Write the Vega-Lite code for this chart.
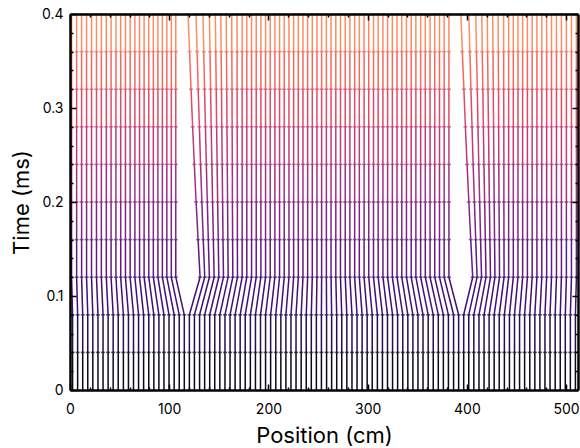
{
"$schema": "https://vega.github.io/schema/vega-lite/v6.json",
"width": 508, "height": 376,
"autosize": {"type": "none"},
"padding": {"left": 70, "top": 14, "right": 2, "bottom": 58},
"config": {"view": {"stroke": null}, "font": "Inter"},
"datasets": {"times": [{"key":"a","t":0},{"key":"b","t":0.04},{"key":"c","t":0.08},{"key":"d","t":0.12},{"key":"e","t":0.16},{"key":"f","t":0.2},{"key":"g","t":0.24},{"key":"h","t":0.28},{"key":"i","t":0.32},{"key":"j","t":0.36},{"key":"k","t":0.4}]},
"data": {"values": [
{"p":0,"a":2.6,"b":2.6,"c":2.6,"d":1.6,"e":1.6,"f":1.6,"g":1.6,"h":1.6,"i":1.6,"j":1.6,"k":1.6},
{"p":1,"a":7.7,"b":7.7,"c":7.7,"d":6.7,"e":6.7,"f":6.7,"g":6.7,"h":6.7,"i":6.7,"j":6.7,"k":6.7},
{"p":2,"a":12.8,"b":12.8,"c":12.8,"d":11.7,"e":11.7,"f":11.7,"g":11.7,"h":11.7,"i":11.7,"j":11.7,"k":11.7},
{"p":3,"a":17.9,"b":17.9,"c":17.9,"d":16.7,"e":16.7,"f":16.7,"g":16.7,"h":16.7,"i":16.7,"j":16.7,"k":16.7},
{"p":4,"a":23.0,"b":23.0,"c":23.0,"d":21.7,"e":21.7,"f":21.7,"g":21.7,"h":21.7,"i":21.7,"j":21.7,"k":21.7},
{"p":5,"a":28.2,"b":28.2,"c":28.2,"d":26.7,"e":26.7,"f":26.7,"g":26.7,"h":26.7,"i":26.7,"j":26.7,"k":26.7},
{"p":6,"a":33.3,"b":33.3,"c":33.3,"d":31.6,"e":31.6,"f":31.6,"g":31.6,"h":31.6,"i":31.6,"j":31.6,"k":31.6},
{"p":7,"a":38.4,"b":38.4,"c":38.4,"d":36.6,"e":36.6,"f":36.6,"g":36.6,"h":36.6,"i":36.6,"j":36.6,"k":36.6},
{"p":8,"a":43.5,"b":43.5,"c":43.5,"d":41.4,"e":41.4,"f":41.4,"g":41.4,"h":41.4,"i":41.4,"j":41.4,"k":41.4},
{"p":9,"a":48.6,"b":48.6,"c":48.6,"d":46.3,"e":46.3,"f":46.3,"g":46.3,"h":46.3,"i":46.3,"j":46.3,"k":46.3},
{"p":10,"a":53.8,"b":53.8,"c":53.8,"d":51.1,"e":51.1,"f":51.1,"g":51.1,"h":51.1,"i":51.1,"j":51.1,"k":51.1},
{"p":11,"a":58.9,"b":58.9,"c":58.9,"d":55.9,"e":55.9,"f":55.9,"g":55.9,"h":55.9,"i":55.9,"j":55.9,"k":55.9},
{"p":12,"a":64.0,"b":64.0,"c":64.0,"d":60.6,"e":60.6,"f":60.6,"g":60.6,"h":60.6,"i":60.6,"j":60.6,"k":60.6},
{"p":13,"a":69.1,"b":69.1,"c":69.1,"d":65.4,"e":65.4,"f":65.4,"g":65.4,"h":65.4,"i":65.4,"j":65.4,"k":65.4},
{"p":14,"a":74.2,"b":74.2,"c":74.2,"d":70.1,"e":70.1,"f":70.1,"g":70.1,"h":70.1,"i":70.1,"j":70.1,"k":70.1},
{"p":15,"a":79.4,"b":79.4,"c":79.4,"d":74.7,"e":74.7,"f":74.7,"g":74.7,"h":74.7,"i":74.7,"j":74.7,"k":74.7},
{"p":16,"a":84.5,"b":84.5,"c":84.5,"d":79.4,"e":79.4,"f":79.4,"g":79.4,"h":79.4,"i":79.4,"j":79.4,"k":79.4},
{"p":17,"a":89.6,"b":89.6,"c":89.6,"d":84.0,"e":84.0,"f":84.0,"g":84.0,"h":84.0,"i":84.0,"j":84.0,"k":84.0},
{"p":18,"a":94.7,"b":94.7,"c":94.7,"d":88.6,"e":88.6,"f":88.6,"g":88.6,"h":88.6,"i":88.6,"j":88.6,"k":88.6},
{"p":19,"a":99.8,"b":99.8,"c":99.8,"d":93.1,"e":93.1,"f":93.1,"g":93.1,"h":93.1,"i":93.1,"j":93.1,"k":93.1},
{"p":20,"a":105.0,"b":105.0,"c":105.0,"d":97.6,"e":97.6,"f":97.6,"g":97.6,"h":97.6,"i":97.6,"j":97.6,"k":97.6},
{"p":21,"a":110.1,"b":110.1,"c":110.1,"d":102.1,"e":102.1,"f":102.1,"g":102.1,"h":102.1,"i":102.1,"j":102.1,"k":102.1},
{"p":22,"a":115.2,"b":115.2,"c":115.2,"d":106.6,"e":106.6,"f":106.6,"g":106.6,"h":106.6,"i":106.6,"j":106.6,"k":106.6},
{"p":23,"a":120.3,"b":120.3,"c":120.3,"d":131.1,"e":129.1,"f":127.1,"g":125.3,"h":123.6,"i":122.0,"j":120.5,"k":119.0},
{"p":24,"a":125.4,"b":125.4,"c":125.4,"d":135.8,"e":134.3,"f":132.9,"g":131.6,"h":130.4,"i":129.2,"j":128.1,"k":127.0},
{"p":25,"a":130.6,"b":130.6,"c":130.6,"d":140.5,"e":139.4,"f":138.4,"g":137.4,"h":136.5,"i":135.6,"j":134.8,"k":134.0},
{"p":26,"a":135.7,"b":135.7,"c":135.7,"d":145.3,"e":144.5,"f":143.7,"g":143.0,"h":142.3,"i":141.7,"j":141.1,"k":140.5},
{"p":27,"a":140.8,"b":140.8,"c":140.8,"d":150.0,"e":149.4,"f":148.8,"g":148.3,"h":147.8,"i":147.4,"j":146.9,"k":146.5},
{"p":28,"a":145.9,"b":145.9,"c":145.9,"d":154.7,"e":154.2,"f":153.8,"g":153.4,"h":153.0,"i":152.7,"j":152.3,"k":152.0},
{"p":29,"a":151.0,"b":151.0,"c":151.0,"d":159.4,"e":159.1,"f":158.8,"g":158.5,"h":158.2,"i":158.0,"j":157.7,"k":157.5},
{"p":30,"a":156.2,"b":156.2,"c":156.2,"d":164.1,"e":163.9,"f":163.7,"g":163.6,"h":163.4,"i":163.3,"j":163.1,"k":163.0},
{"p":31,"a":161.3,"b":161.3,"c":161.3,"d":168.8,"e":168.7,"f":168.7,"g":168.6,"h":168.5,"i":168.4,"j":168.4,"k":168.3},
{"p":32,"a":166.4,"b":166.4,"c":166.4,"d":173.5,"e":173.5,"f":173.5,"g":173.5,"h":173.5,"i":173.5,"j":173.5,"k":173.5},
{"p":33,"a":171.5,"b":171.5,"c":171.5,"d":178.2,"e":178.2,"f":178.2,"g":178.2,"h":178.2,"i":178.2,"j":178.2,"k":178.2},
{"p":34,"a":176.6,"b":176.6,"c":176.6,"d":183.0,"e":183.0,"f":183.0,"g":183.0,"h":183.0,"i":183.0,"j":183.0,"k":183.0},
{"p":35,"a":181.8,"b":181.8,"c":181.8,"d":187.7,"e":187.7,"f":187.7,"g":187.7,"h":187.7,"i":187.7,"j":187.7,"k":187.7},
{"p":36,"a":186.9,"b":186.9,"c":186.9,"d":192.4,"e":192.4,"f":192.4,"g":192.4,"h":192.4,"i":192.4,"j":192.4,"k":192.4},
{"p":37,"a":192.0,"b":192.0,"c":192.0,"d":197.1,"e":197.1,"f":197.1,"g":197.1,"h":197.1,"i":197.1,"j":197.1,"k":197.1},
{"p":38,"a":197.1,"b":197.1,"c":197.1,"d":201.8,"e":201.8,"f":201.8,"g":201.8,"h":201.8,"i":201.8,"j":201.8,"k":201.8},
{"p":39,"a":202.2,"b":202.2,"c":202.2,"d":206.5,"e":206.5,"f":206.5,"g":206.5,"h":206.5,"i":206.5,"j":206.5,"k":206.5},
{"p":40,"a":207.4,"b":207.4,"c":207.4,"d":211.2,"e":211.2,"f":211.2,"g":211.2,"h":211.2,"i":211.2,"j":211.2,"k":211.2},
{"p":41,"a":212.5,"b":212.5,"c":212.5,"d":215.9,"e":215.9,"f":215.9,"g":215.9,"h":215.9,"i":215.9,"j":215.9,"k":215.9},
{"p":42,"a":217.6,"b":217.6,"c":217.6,"d":220.7,"e":220.7,"f":220.7,"g":220.7,"h":220.7,"i":220.7,"j":220.7,"k":220.7},
{"p":43,"a":222.7,"b":222.7,"c":222.7,"d":225.4,"e":225.4,"f":225.4,"g":225.4,"h":225.4,"i":225.4,"j":225.4,"k":225.4},
{"p":44,"a":227.8,"b":227.8,"c":227.8,"d":230.1,"e":230.1,"f":230.1,"g":230.1,"h":230.1,"i":230.1,"j":230.1,"k":230.1},
{"p":45,"a":233.0,"b":233.0,"c":233.0,"d":234.8,"e":234.8,"f":234.8,"g":234.8,"h":234.8,"i":234.8,"j":234.8,"k":234.8},
{"p":46,"a":238.1,"b":238.1,"c":238.1,"d":239.5,"e":239.5,"f":239.5,"g":239.5,"h":239.5,"i":239.5,"j":239.5,"k":239.5},
{"p":47,"a":243.2,"b":243.2,"c":243.2,"d":244.2,"e":244.2,"f":244.2,"g":244.2,"h":244.2,"i":244.2,"j":244.2,"k":244.2},
{"p":48,"a":248.3,"b":248.3,"c":248.3,"d":248.9,"e":248.9,"f":248.9,"g":248.9,"h":248.9,"i":248.9,"j":248.9,"k":248.9},
{"p":49,"a":253.4,"b":253.4,"c":253.4,"d":253.6,"e":253.6,"f":253.6,"g":253.6,"h":253.6,"i":253.6,"j":253.6,"k":253.6},
{"p":50,"a":258.6,"b":258.6,"c":258.6,"d":258.4,"e":258.4,"f":258.4,"g":258.4,"h":258.4,"i":258.4,"j":258.4,"k":258.4},
{"p":51,"a":263.7,"b":263.7,"c":263.7,"d":263.1,"e":263.1,"f":263.1,"g":263.1,"h":263.1,"i":263.1,"j":263.1,"k":263.1},
{"p":52,"a":268.8,"b":268.8,"c":268.8,"d":267.9,"e":267.9,"f":267.9,"g":267.9,"h":267.9,"i":267.9,"j":267.9,"k":267.9},
{"p":53,"a":273.9,"b":273.9,"c":273.9,"d":272.6,"e":272.6,"f":272.6,"g":272.6,"h":272.6,"i":272.6,"j":272.6,"k":272.6},
{"p":54,"a":279.0,"b":279.0,"c":279.0,"d":277.4,"e":277.4,"f":277.4,"g":277.4,"h":277.4,"i":277.4,"j":277.4,"k":277.4},
{"p":55,"a":284.2,"b":284.2,"c":284.2,"d":282.1,"e":282.1,"f":282.1,"g":282.1,"h":282.1,"i":282.1,"j":282.1,"k":282.1},
{"p":56,"a":289.3,"b":289.3,"c":289.3,"d":286.9,"e":286.9,"f":286.9,"g":286.9,"h":286.9,"i":286.9,"j":286.9,"k":286.9},
{"p":57,"a":294.4,"b":294.4,"c":294.4,"d":291.6,"e":291.6,"f":291.6,"g":291.6,"h":291.6,"i":291.6,"j":291.6,"k":291.6},
{"p":58,"a":299.5,"b":299.5,"c":299.5,"d":296.4,"e":296.4,"f":296.4,"g":296.4,"h":296.4,"i":296.4,"j":296.4,"k":296.4},
{"p":59,"a":304.6,"b":304.6,"c":304.6,"d":301.1,"e":301.1,"f":301.1,"g":301.1,"h":301.1,"i":301.1,"j":301.1,"k":301.1},
{"p":60,"a":309.8,"b":309.8,"c":309.8,"d":305.9,"e":305.9,"f":305.9,"g":305.9,"h":305.9,"i":305.9,"j":305.9,"k":305.9},
{"p":61,"a":314.9,"b":314.9,"c":314.9,"d":310.6,"e":310.6,"f":310.6,"g":310.6,"h":310.6,"i":310.6,"j":310.6,"k":310.6},
{"p":62,"a":320.0,"b":320.0,"c":320.0,"d":315.4,"e":315.4,"f":315.4,"g":315.4,"h":315.4,"i":315.4,"j":315.4,"k":315.4},
{"p":63,"a":325.1,"b":325.1,"c":325.1,"d":320.1,"e":320.1,"f":320.1,"g":320.1,"h":320.1,"i":320.1,"j":320.1,"k":320.1},
{"p":64,"a":330.2,"b":330.2,"c":330.2,"d":324.9,"e":324.9,"f":324.9,"g":324.9,"h":324.9,"i":324.9,"j":324.9,"k":324.9},
{"p":65,"a":335.4,"b":335.4,"c":335.4,"d":329.6,"e":329.6,"f":329.6,"g":329.6,"h":329.6,"i":329.6,"j":329.6,"k":329.6},
{"p":66,"a":340.5,"b":340.5,"c":340.5,"d":334.4,"e":334.4,"f":334.4,"g":334.4,"h":334.4,"i":334.4,"j":334.4,"k":334.4},
{"p":67,"a":345.6,"b":345.6,"c":345.6,"d":339.1,"e":339.1,"f":339.1,"g":339.1,"h":339.1,"i":339.1,"j":339.1,"k":339.1},
{"p":68,"a":350.7,"b":350.7,"c":350.7,"d":343.9,"e":343.9,"f":343.9,"g":343.9,"h":343.9,"i":343.9,"j":343.9,"k":343.9},
{"p":69,"a":355.8,"b":355.8,"c":355.8,"d":348.6,"e":348.6,"f":348.6,"g":348.6,"h":348.6,"i":348.6,"j":348.6,"k":348.6},
{"p":70,"a":361.0,"b":361.0,"c":361.0,"d":353.4,"e":353.4,"f":353.4,"g":353.4,"h":353.4,"i":353.4,"j":353.4,"k":353.4},
{"p":71,"a":366.1,"b":366.1,"c":366.1,"d":358.1,"e":358.1,"f":358.1,"g":358.1,"h":358.1,"i":358.1,"j":358.1,"k":358.1},
{"p":72,"a":371.2,"b":371.2,"c":371.2,"d":362.9,"e":362.9,"f":362.9,"g":362.9,"h":362.9,"i":362.9,"j":362.9,"k":362.9},
{"p":73,"a":376.3,"b":376.3,"c":376.3,"d":367.6,"e":367.6,"f":367.6,"g":367.6,"h":367.6,"i":367.6,"j":367.6,"k":367.6},
{"p":74,"a":381.4,"b":381.4,"c":381.4,"d":372.4,"e":372.4,"f":372.4,"g":372.4,"h":372.4,"i":372.4,"j":372.4,"k":372.4},
{"p":75,"a":386.6,"b":386.6,"c":386.6,"d":377.1,"e":377.1,"f":377.1,"g":377.1,"h":377.1,"i":377.1,"j":377.1,"k":377.1},
{"p":76,"a":391.7,"b":391.7,"c":391.7,"d":381.9,"e":381.9,"f":381.9,"g":381.9,"h":381.9,"i":381.9,"j":381.9,"k":381.9},
{"p":77,"a":396.8,"b":396.8,"c":396.8,"d":405.9,"e":403.9,"f":402.0,"g":400.2,"h":398.5,"i":397.0,"j":395.4,"k":394.0},
{"p":78,"a":401.9,"b":401.9,"c":401.9,"d":410.3,"e":408.9,"f":407.6,"g":406.3,"h":405.2,"i":404.1,"j":403.0,"k":402.0},
{"p":79,"a":407.0,"b":407.0,"c":407.0,"d":414.8,"e":413.8,"f":412.9,"g":412.0,"h":411.2,"i":410.5,"j":409.7,"k":409.0},
{"p":80,"a":412.2,"b":412.2,"c":412.2,"d":419.3,"e":418.6,"f":417.9,"g":417.2,"h":416.6,"i":416.1,"j":415.5,"k":415.0},
{"p":81,"a":417.3,"b":417.3,"c":417.3,"d":423.8,"e":423.2,"f":422.7,"g":422.2,"h":421.8,"i":421.3,"j":420.9,"k":420.5},
{"p":82,"a":422.4,"b":422.4,"c":422.4,"d":428.3,"e":427.9,"f":427.5,"g":427.2,"h":426.9,"i":426.6,"j":426.3,"k":426.0},
{"p":83,"a":427.5,"b":427.5,"c":427.5,"d":432.9,"e":432.7,"f":432.4,"g":432.2,"h":432.0,"i":431.9,"j":431.7,"k":431.5},
{"p":84,"a":432.6,"b":432.6,"c":432.6,"d":437.5,"e":437.4,"f":437.3,"g":437.3,"h":437.2,"i":437.1,"j":437.1,"k":437.0},
{"p":85,"a":437.8,"b":437.8,"c":437.8,"d":442.1,"e":442.1,"f":442.1,"g":442.1,"h":442.1,"i":442.1,"j":442.1,"k":442.1},
{"p":86,"a":442.9,"b":442.9,"c":442.9,"d":446.8,"e":446.8,"f":446.8,"g":446.8,"h":446.8,"i":446.8,"j":446.8,"k":446.8},
{"p":87,"a":448.0,"b":448.0,"c":448.0,"d":451.5,"e":451.5,"f":451.5,"g":451.5,"h":451.5,"i":451.5,"j":451.5,"k":451.5},
{"p":88,"a":453.1,"b":453.1,"c":453.1,"d":456.2,"e":456.2,"f":456.2,"g":456.2,"h":456.2,"i":456.2,"j":456.2,"k":456.2},
{"p":89,"a":458.2,"b":458.2,"c":458.2,"d":461.0,"e":461.0,"f":461.0,"g":461.0,"h":461.0,"i":461.0,"j":461.0,"k":461.0},
{"p":90,"a":463.4,"b":463.4,"c":463.4,"d":465.8,"e":465.8,"f":465.8,"g":465.8,"h":465.8,"i":465.8,"j":465.8,"k":465.8},
{"p":91,"a":468.5,"b":468.5,"c":468.5,"d":470.6,"e":470.6,"f":470.6,"g":470.6,"h":470.6,"i":470.6,"j":470.6,"k":470.6},
{"p":92,"a":473.6,"b":473.6,"c":473.6,"d":475.5,"e":475.5,"f":475.5,"g":475.5,"h":475.5,"i":475.5,"j":475.5,"k":475.5},
{"p":93,"a":478.7,"b":478.7,"c":478.7,"d":480.4,"e":480.4,"f":480.4,"g":480.4,"h":480.4,"i":480.4,"j":480.4,"k":480.4},
{"p":94,"a":483.8,"b":483.8,"c":483.8,"d":485.3,"e":485.3,"f":485.3,"g":485.3,"h":485.3,"i":485.3,"j":485.3,"k":485.3},
{"p":95,"a":489.0,"b":489.0,"c":489.0,"d":490.3,"e":490.3,"f":490.3,"g":490.3,"h":490.3,"i":490.3,"j":490.3,"k":490.3},
{"p":96,"a":494.1,"b":494.1,"c":494.1,"d":495.3,"e":495.3,"f":495.3,"g":495.3,"h":495.3,"i":495.3,"j":495.3,"k":495.3},
{"p":97,"a":499.2,"b":499.2,"c":499.2,"d":500.3,"e":500.3,"f":500.3,"g":500.3,"h":500.3,"i":500.3,"j":500.3,"k":500.3},
{"p":98,"a":504.3,"b":504.3,"c":504.3,"d":505.4,"e":505.4,"f":505.4,"g":505.4,"h":505.4,"i":505.4,"j":505.4,"k":505.4},
{"p":99,"a":509.4,"b":509.4,"c":509.4,"d":510.4,"e":510.4,"f":510.4,"g":510.4,"h":510.4,"i":510.4,"j":510.4,"k":510.4}
]},
"transform": [
{"fold": ["a","b","c","d","e","f","g","h","i","j","k"], "as": ["key","x"]},
{"lookup": "key", "from": {"data": {"name": "times"}, "key": "key", "fields": ["t"]}},
{"window": [{"op": "lead", "field": "x", "as": "xn"}, {"op": "lead", "field": "t", "as": "tn"}], "groupby": ["p"], "sort": [{"field": "t", "order": "ascending"}]},
{"filter": "datum.tn != null"}
],
"layer": [
{"mark": {"type": "rule", "strokeWidth": 1.5},
 "encoding": {
  "x": {"field": "x", "type": "quantitative", "scale": {"domain": [0, 512], "nice": false, "zero": false},
    "axis": {"orient": "bottom", "values": [0,20,40,60,80,100,120,140,160,180,200,220,240,260,280,300,320,340,360,380,400,420,440,460,480,500],
      "labelExpr": "datum.value % 100 === 0 ? datum.label : ''",
      "tickSize": {"condition": {"test": "datum.value % 100 === 0", "value": -6}, "value": -3},
      "tickColor": "#000", "tickWidth": 1.5, "domainColor": "#000", "domainWidth": 2.5,
      "labelFontSize": 14, "labelColor": "#000", "labelPadding": 18, "labelFlush": false,
      "title": "Position (cm)", "titleFontSize": 22, "titleFontWeight": "normal", "titleColor": "#000", "titlePadding": 9,
      "grid": false, "zindex": 1}},
  "x2": {"field": "xn"},
  "y": {"field": "t", "type": "quantitative", "scale": {"domain": [0, 0.4], "nice": false, "zero": false},
    "axis": {"orient": "left", "values": [0,0.02,0.04,0.06,0.08,0.1,0.12,0.14,0.16,0.18,0.2,0.22,0.24,0.26,0.28,0.3,0.32,0.34,0.36,0.38,0.4],
      "labelExpr": "abs(datum.value*10 - round(datum.value*10)) < 0.001 ? format(datum.value, '.1~f') : ''",
      "tickSize": {"condition": {"test": "abs(datum.value*10 - round(datum.value*10)) < 0.001", "value": -6}, "value": -3},
      "tickColor": "#000", "tickWidth": 1.5, "domainColor": "#000", "domainWidth": 2.5,
      "labelFontSize": 14, "labelColor": "#000", "labelPadding": 13, "labelFlush": false,
      "title": "Time (ms)", "titleFontSize": 22, "titleFontWeight": "normal", "titleColor": "#000", "titlePadding": 8,
      "grid": false, "zindex": 1}},
  "y2": {"field": "tn"},
  "color": {"field": "t", "type": "quantitative", "scale": {"domain": [0, 0.36], "scheme": {"name": "magma", "extent": [0.06, 0.76]}}, "legend": null}
 }},
{"mark": {"type": "tick", "orient": "horizontal", "size": 4, "thickness": 1.6},
 "encoding": {
  "x": {"field": "xn", "type": "quantitative", "scale": {"domain": [0, 512], "nice": false, "zero": false},
    "axis": {"orient": "top", "values": [0,20,40,60,80,100,120,140,160,180,200,220,240,260,280,300,320,340,360,380,400,420,440,460,480,500],
      "labels": false, "title": null,
      "tickSize": {"condition": {"test": "datum.value % 100 === 0", "value": -6}, "value": -3},
      "tickColor": "#000", "tickWidth": 1.5, "domainColor": "#000", "domainWidth": 2.5, "grid": false, "zindex": 1}},
  "y": {"field": "tn", "type": "quantitative", "scale": {"domain": [0, 0.4], "nice": false, "zero": false},
    "axis": {"orient": "right", "values": [0,0.02,0.04,0.06,0.08,0.1,0.12,0.14,0.16,0.18,0.2,0.22,0.24,0.26,0.28,0.3,0.32,0.34,0.36,0.38,0.4],
      "labels": false, "title": null,
      "tickSize": {"condition": {"test": "abs(datum.value*10 - round(datum.value*10)) < 0.001", "value": -6}, "value": -3},
      "tickColor": "#000", "tickWidth": 1.5, "domainColor": "#000", "domainWidth": 2.5, "grid": false, "zindex": 1}},
  "color": {"field": "t", "type": "quantitative", "legend": null}
 }}
],
"resolve": {"axis": {"x": "independent", "y": "independent"}}
}
